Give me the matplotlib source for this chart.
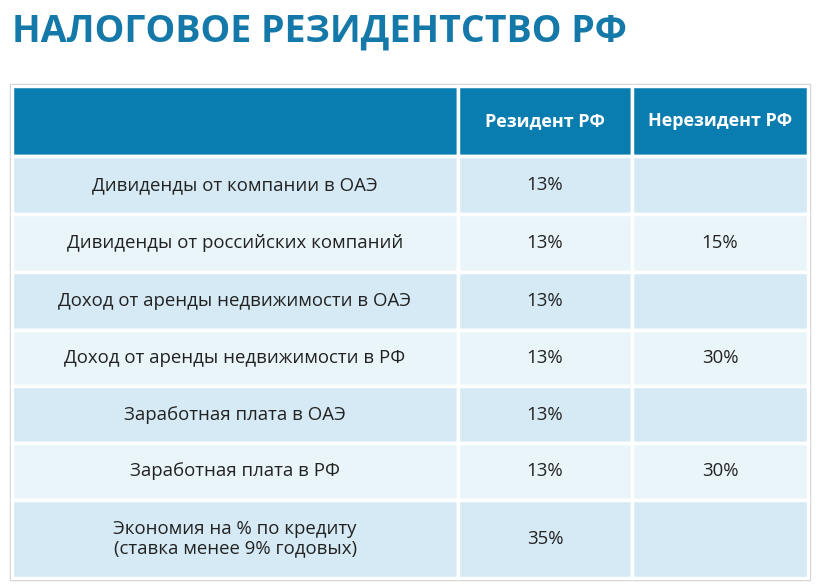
import matplotlib
matplotlib.use("Agg")
import matplotlib.pyplot as plt
from matplotlib.patches import Rectangle

title = "НАЛОГОВОЕ РЕЗИДЕНТСТВО РФ"
headers = ["", "Резидент РФ", "Нерезидент РФ"]
categories = ["Дивиденды от компании в ОАЭ", "Дивиденды от российских компаний",
              "Доход от аренды недвижимости в ОАЭ", "Доход от аренды недвижимости в РФ",
              "Заработная плата в ОАЭ", "Заработная плата в РФ",
              "Экономия на % по кредиту\n(ставка менее 9% годовых)"]
resident = ["13%", "13%", "13%", "13%", "13%", "13%", "35%"]
nonresident = ["", "15%", "", "30%", "", "30%", ""]

fig = plt.figure(figsize=(8.16, 5.84), dpi=100)
ax = fig.add_axes([0, 0, 1, 1])
ax.set_xlim(0, 816); ax.set_ylim(584, 0); ax.axis("off")

ax.text(12, 32, title, fontsize=27, fontweight="bold", color="#1479a8",
        va="center", ha="left", family="Open Sans")

cols = [12, 458, 632, 808]
rows = [86, 156, 214, 272, 330, 386, 443, 500, 578]
ax.add_patch(Rectangle((cols[0]-2, rows[0]-2), cols[-1]-cols[0]+4, rows[-1]-rows[0]+4,
                       facecolor="none", edgecolor="#cccccc", lw=1))
for j in range(3):
    ax.add_patch(Rectangle((cols[j], rows[0]), cols[j+1]-cols[j], rows[1]-rows[0],
                           facecolor="#0a7db0", edgecolor="white", lw=2.5))
    ax.text((cols[j]+cols[j+1])/2, (rows[0]+rows[1])/2, headers[j], color="white",
            fontsize=13, fontweight="bold", ha="center", va="center", family="Open Sans")
for i in range(len(categories)):
    fc = "#d5eaf4" if i % 2 == 0 else "#eaf5fa"
    vals = [categories[i], resident[i], nonresident[i]]
    for j in range(3):
        ax.add_patch(Rectangle((cols[j], rows[i+1]), cols[j+1]-cols[j], rows[i+2]-rows[i+1],
                               facecolor=fc, edgecolor="white", lw=2.5))
        ax.text((cols[j]+cols[j+1])/2, (rows[i+1]+rows[i+2])/2, vals[j], color="#222222",
                fontsize=13.4, ha="center", va="center", family="Open Sans", linespacing=1.1)

fig.savefig("out.png", dpi=100)
